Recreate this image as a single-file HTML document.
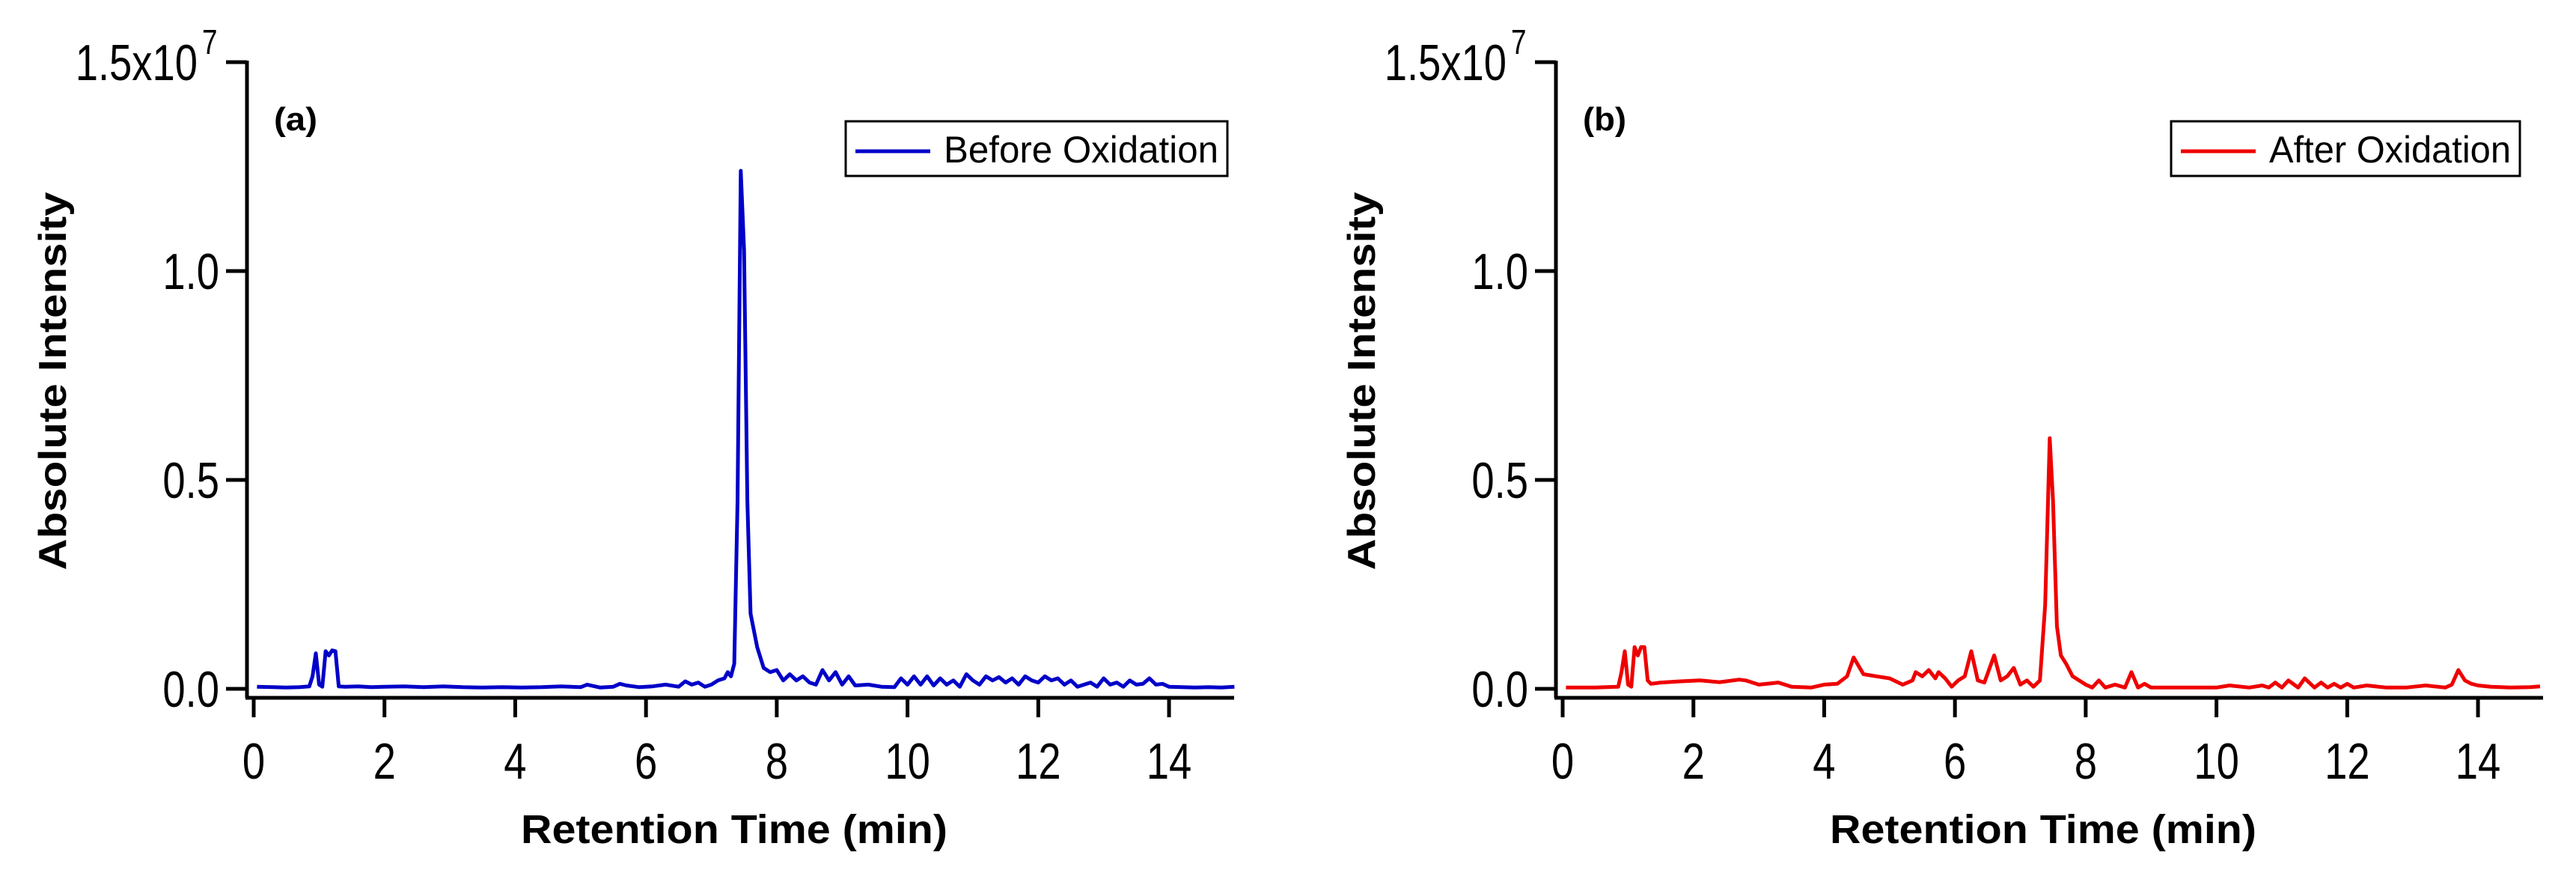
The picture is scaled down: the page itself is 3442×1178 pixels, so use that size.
<!DOCTYPE html>
<html><head><meta charset="utf-8"><style>
html,body{margin:0;padding:0;background:#fff;}
svg{display:block;}
text{font-family:"Liberation Sans",sans-serif;fill:#000;}
</style></head><body>
<svg id="chart" width="3442" height="1178" viewBox="0 0 3442 1178" xmlns="http://www.w3.org/2000/svg"></svg>
<script>
const xTicks = [0, 2, 4, 6, 8, 10, 12, 14];
const yTicks = [0, 0.5, 1.0, 1.5];
const yTickLabels = ["0.0", "0.5", "1.0", "1.5x10"];
const timesA = [0.05,0.3,0.5,0.7,0.85,0.9,0.95,1.0,1.05,1.1,1.15,1.2,1.25,1.3,1.4,1.6,1.8,2.0,2.3,2.6,2.9,3.2,3.5,3.8,4.1,4.4,4.7,5.0,5.1,5.3,5.5,5.6,5.7,5.9,6.1,6.3,6.5,6.6,6.7,6.8,6.9,7.0,7.1,7.2,7.25,7.3,7.35,7.4,7.45,7.5,7.55,7.6,7.65,7.7,7.8,7.9,8.0,8.1,8.2,8.3,8.4,8.5,8.6,8.7,8.8,8.9,9.0,9.1,9.2,9.4,9.6,9.8,9.9,10.0,10.1,10.2,10.3,10.4,10.5,10.6,10.7,10.8,10.9,11.0,11.1,11.2,11.3,11.4,11.5,11.6,11.7,11.8,11.9,12.0,12.1,12.2,12.3,12.4,12.5,12.6,12.7,12.8,12.9,13.0,13.1,13.2,13.3,13.4,13.5,13.6,13.7,13.8,13.9,14.0,14.2,14.4,14.6,14.8,15.0];
const valuesA = [0.005,0.004,0.003,0.004,0.006,0.03,0.085,0.01,0.005,0.09,0.08,0.092,0.09,0.006,0.005,0.006,0.004,0.005,0.006,0.004,0.006,0.004,0.003,0.004,0.003,0.004,0.006,0.004,0.01,0.003,0.005,0.012,0.008,0.004,0.006,0.01,0.005,0.018,0.01,0.015,0.005,0.01,0.02,0.025,0.04,0.03,0.06,0.45,1.24,1.05,0.45,0.18,0.14,0.1,0.05,0.04,0.045,0.02,0.035,0.02,0.03,0.015,0.01,0.045,0.02,0.04,0.01,0.03,0.008,0.01,0.005,0.004,0.025,0.01,0.03,0.01,0.03,0.008,0.025,0.01,0.02,0.005,0.035,0.02,0.01,0.03,0.02,0.028,0.015,0.025,0.01,0.03,0.02,0.015,0.03,0.02,0.025,0.01,0.02,0.005,0.01,0.015,0.005,0.025,0.01,0.015,0.005,0.02,0.01,0.012,0.025,0.01,0.012,0.005,0.004,0.003,0.004,0.003,0.005];
const timesB = [0.05,0.5,0.85,0.9,0.95,1.0,1.05,1.1,1.15,1.2,1.25,1.3,1.35,1.5,1.8,2.1,2.4,2.7,2.8,3.0,3.3,3.5,3.8,4.0,4.2,4.35,4.45,4.6,4.8,5.0,5.2,5.35,5.4,5.5,5.6,5.7,5.75,5.85,5.95,6.05,6.15,6.25,6.35,6.45,6.6,6.7,6.8,6.9,7.0,7.1,7.2,7.3,7.38,7.45,7.5,7.56,7.62,7.7,7.8,7.9,8.0,8.1,8.2,8.3,8.45,8.6,8.7,8.8,8.9,9.0,9.1,9.3,9.6,10.0,10.2,10.5,10.7,10.8,10.9,11.0,11.1,11.25,11.35,11.5,11.6,11.7,11.8,11.9,12.0,12.1,12.3,12.6,12.9,13.2,13.5,13.6,13.7,13.8,13.9,14.0,14.2,14.5,14.8,14.95];
const valuesB = [0.003,0.003,0.005,0.04,0.09,0.01,0.005,0.1,0.08,0.1,0.1,0.02,0.012,0.015,0.018,0.02,0.016,0.022,0.02,0.01,0.015,0.005,0.003,0.01,0.012,0.03,0.075,0.035,0.03,0.025,0.01,0.02,0.04,0.03,0.045,0.025,0.04,0.025,0.005,0.02,0.03,0.09,0.02,0.015,0.08,0.02,0.03,0.05,0.01,0.02,0.005,0.02,0.2,0.6,0.45,0.15,0.08,0.06,0.03,0.02,0.01,0.003,0.02,0.003,0.01,0.003,0.04,0.003,0.012,0.003,0.003,0.003,0.003,0.003,0.008,0.003,0.008,0.003,0.015,0.003,0.02,0.003,0.025,0.003,0.015,0.003,0.012,0.003,0.012,0.003,0.008,0.003,0.003,0.008,0.003,0.01,0.045,0.02,0.012,0.008,0.005,0.003,0.004,0.006];

const svg = document.getElementById('chart');
const NS = 'http://www.w3.org/2000/svg';
function mk(tag, attrs, parent) {
  const e = document.createElementNS(NS, tag);
  for (const k in attrs) e.setAttribute(k, attrs[k]);
  (parent || svg).appendChild(e);
  return e;
}
function condensed(parent, x, y, size, anchor, str) {
  const t = mk('text', {x: 0, y: 0, 'font-size': size, 'text-anchor': anchor, transform: 'translate(' + x + ',' + y + ') scale(0.8,1)'}, parent);
  t.textContent = str;
  return t;
}
function drawPanel(off, times, vals, color, tag, legendText, key, legX0, legX1) {
  const g = mk('g', {});
  
  
  const x0 = 339 + off, pxPerMin = 87.36;
  const y0 = 920, pxPerUnit = 558;
  const sx = t => x0 + t * pxPerMin;
  const sy = v => y0 - v * pxPerUnit;
  const ya = mk('line', {x1: 330 + off, y1: 81, x2: 330 + off, y2: 932, stroke: '#000', 'stroke-width': 5}, g);
  
  
  yTicks.forEach((v, i) => {
    const tk = mk('line', {x1: 302 + off, y1: sy(v), x2: 330 + off, y2: sy(v), stroke: '#000', 'stroke-width': 5}, g);
    
    
    const isTop = i === yTicks.length - 1;
    const lb = condensed(g, (isTop ? 264 : 293) + off, sy(v) + 24, 68, 'end', yTickLabels[i]);
    
    
  });
  const ex = condensed(g, 270 + off, 72, 46, 'start', '7');
  
  
  const xa = mk('line', {x1: 328 + off, y1: 932, x2: 1649 + off, y2: 932, stroke: '#000', 'stroke-width': 5}, g);
  
  
  xTicks.forEach(t => {
    const tk = mk('line', {x1: sx(t), y1: 930, x2: sx(t), y2: 958, stroke: '#000', 'stroke-width': 5}, g);
    
    
    const lb = condensed(g, sx(t), 1040, 68, 'middle', String(t));
    
    
  });
  const xt = mk('text', {x: 981 + off, y: 1126, 'font-size': 54, 'font-weight': 'bold', 'text-anchor': 'middle', textLength: 570, lengthAdjust: 'spacingAndGlyphs'}, g);
  xt.textContent = 'Retention Time (min)';
  
  
  const yt = mk('text', {x: 0, y: 0, 'font-size': 52, 'font-weight': 'bold', 'text-anchor': 'middle', textLength: 505, lengthAdjust: 'spacingAndGlyphs', transform: 'translate(' + (88 + off) + ',509) rotate(-90)'}, g);
  yt.textContent = 'Absolute Intensity';
  
  
  const pl = mk('text', {x: 366 + off, y: 174, 'font-size': 44, 'font-weight': 'bold', textLength: 58, lengthAdjust: 'spacingAndGlyphs'}, g);
  pl.textContent = tag;
  
  
  const d = times.map((t, i) => (i ? 'L' : 'M') + sx(t).toFixed(1) + ',' + sy(vals[i]).toFixed(1)).join(' ');
  const ln = mk('path', {d: d, fill: 'none', stroke: color, 'stroke-width': 5, 'stroke-linejoin': 'round'}, g);
  
  
  const lg = mk('g', {}, g);
  
  
  mk('rect', {x: legX0 + off, y: 162, width: legX1 - legX0, height: 73, fill: '#fff', stroke: '#000', 'stroke-width': 3}, lg);
  mk('line', {x1: legX0 + 13 + off, y1: 202, x2: legX0 + 113 + off, y2: 202, stroke: color, 'stroke-width': 5}, lg);
  const lt = mk('text', {x: legX0 + 131 + off, y: 217, 'font-size': 50, textLength: legX1 - legX0 - 143, lengthAdjust: 'spacingAndGlyphs'}, lg);
  lt.textContent = legendText;
  
  
}
drawPanel(0, timesA, valuesA, '#0000c8', '(a)', 'Before Oxidation', 'a', 1130, 1640);
drawPanel(1749, timesB, valuesB, '#ee0000', '(b)', 'After Oxidation', 'b', 1152, 1618);
</script>
</body></html>
